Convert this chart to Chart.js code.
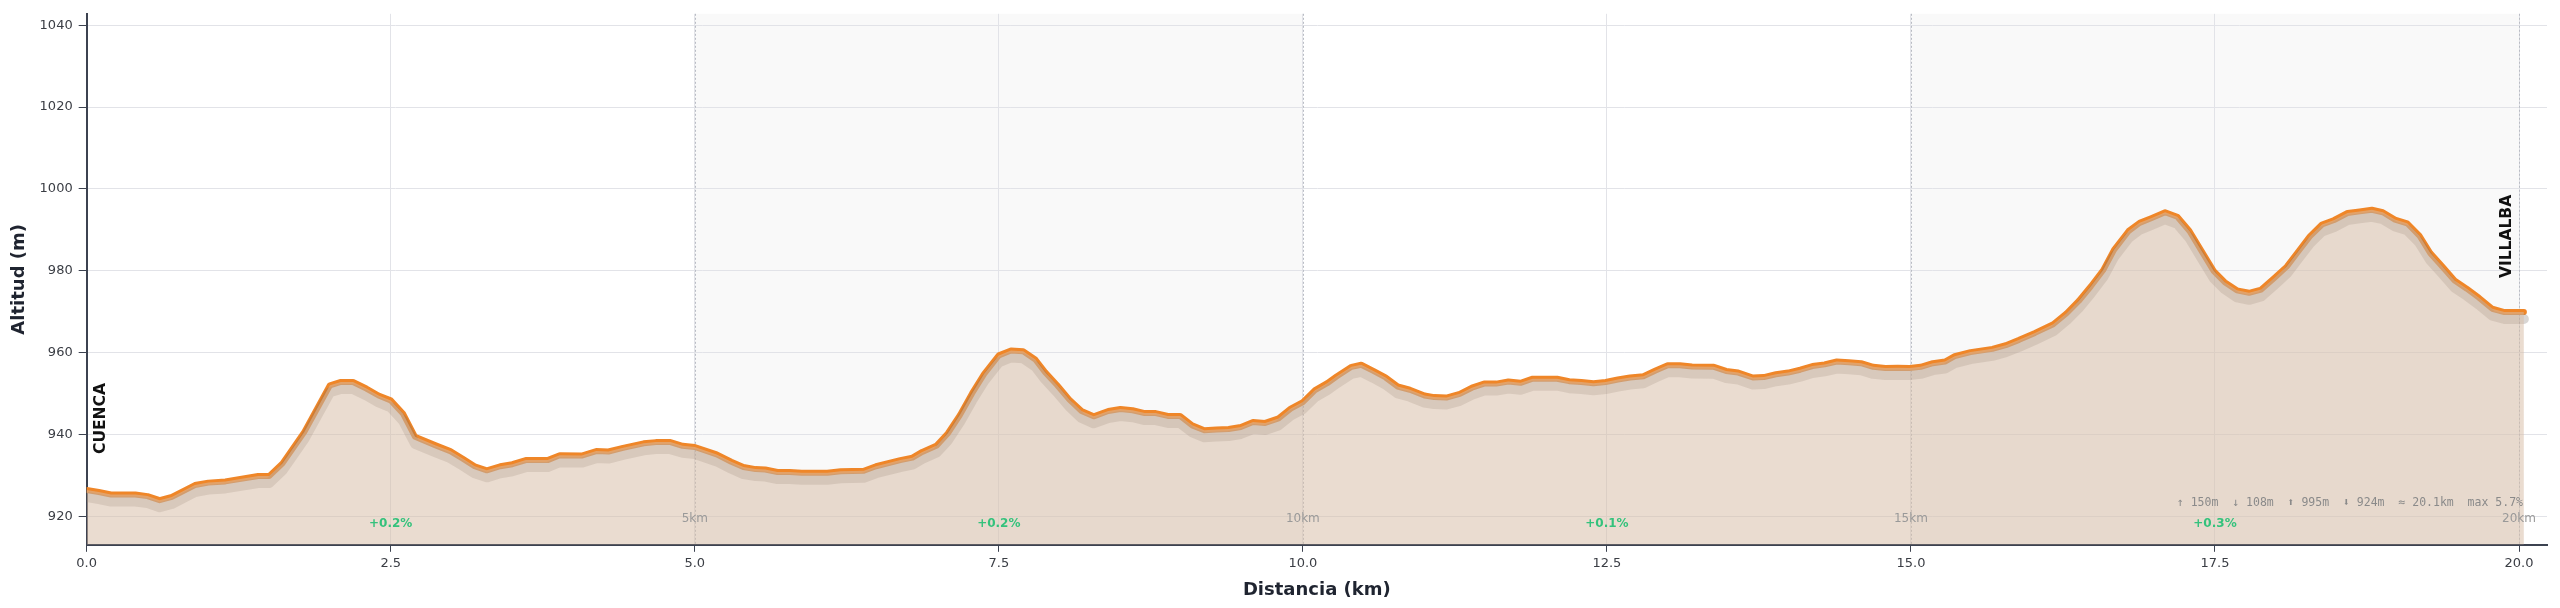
<!DOCTYPE html>
<html>
<head>
<meta charset="utf-8">
<script src="https://cdn.jsdelivr.net/npm/chart.js@4/dist/chart.umd.min.js"></script>
<style>
  html, body { margin: 0; padding: 0; background: #fff; }
  #wrap { width: 2560px; height: 608px; }
</style>
</head>
<body>
<div id="wrap"><canvas id="profile"></canvas></div>
<script>
// distance along the route (km) and altitude (m)
const distKm = [
  0.00, 0.10, 0.20, 0.40, 0.50, 0.60, 0.70, 0.89, 1.00, 1.14, 1.41, 1.50, 1.61, 1.79, 2.00, 2.09, 2.19, 2.30, 2.40, 2.50,
  2.60, 2.70, 2.87, 2.99, 3.09, 3.19, 3.29, 3.40, 3.50, 3.61, 3.79, 3.89, 4.07, 4.19, 4.29, 4.41, 4.58, 4.68, 4.80, 4.90,
  5.00, 5.18, 5.30, 5.40, 5.50, 5.58, 5.68, 5.78, 5.88, 6.09, 6.20, 6.39, 6.49, 6.69, 6.79, 6.87, 6.99, 7.08, 7.18, 7.28,
  7.38, 7.50, 7.60, 7.70, 7.80, 7.88, 7.98, 8.08, 8.18, 8.28, 8.40, 8.50, 8.60, 8.70, 8.79, 8.89, 8.99, 9.09, 9.19, 9.29,
  9.39, 9.49, 9.59, 9.69, 9.80, 9.90, 10.00, 10.10, 10.20, 10.28, 10.40, 10.48, 10.58, 10.68, 10.78, 10.88, 11.00, 11.08, 11.18, 11.29,
  11.39, 11.49, 11.59, 11.69, 11.79, 11.89, 12.09, 12.19, 12.29, 12.39, 12.49, 12.59, 12.69, 12.80, 12.90, 13.00, 13.10, 13.20, 13.38, 13.48,
  13.58, 13.70, 13.79, 13.89, 13.99, 14.09, 14.19, 14.29, 14.39, 14.49, 14.59, 14.69, 14.79, 14.89, 14.99, 15.08, 15.18, 15.28, 15.36, 15.49,
  15.67, 15.78, 15.89, 16.02, 16.17, 16.28, 16.38, 16.48, 16.58, 16.67, 16.79, 16.88, 16.98, 17.09, 17.19, 17.29, 17.39, 17.49, 17.58, 17.68,
  17.78, 17.88, 17.99, 18.09, 18.18, 18.28, 18.38, 18.48, 18.59, 18.69, 18.79, 18.88, 18.98, 19.08, 19.18, 19.27, 19.37, 19.47, 19.57, 19.67,
  19.78, 19.88, 20.04
];
const altitudeM = [
  926.4, 925.9, 925.3, 925.3, 924.9, 923.9, 924.7, 927.6, 928.2, 928.5, 929.8, 929.8, 932.9, 940.6, 952.0, 952.8, 952.8, 951.2, 949.5, 948.3,
  945.1, 939.4, 937.3, 935.9, 934.1, 932.2, 931.2, 932.2, 932.7, 933.7, 933.7, 934.9, 934.8, 935.9, 935.8, 936.7, 937.8, 938.1, 938.1, 937.2,
  936.9, 935.1, 933.3, 932.0, 931.5, 931.4, 930.8, 930.8, 930.6, 930.6, 931.0, 931.1, 932.2, 933.7, 934.3, 935.7, 937.3, 940.2, 944.7, 950.0,
  954.8, 959.3, 960.5, 960.3, 958.3, 955.2, 952.0, 948.5, 945.7, 944.4, 945.7, 946.2, 945.9, 945.2, 945.2, 944.5, 944.5, 942.2, 941.0, 941.2,
  941.3, 941.8, 943.0, 942.8, 943.9, 946.3, 947.9, 950.8, 952.5, 954.2, 956.5, 957.0, 955.5, 953.9, 951.7, 950.9, 949.5, 949.1, 949.0, 949.9,
  951.4, 952.4, 952.4, 952.9, 952.6, 953.6, 953.6, 953.0, 952.8, 952.5, 952.8, 953.4, 953.9, 954.2, 955.6, 956.9, 956.9, 956.6, 956.5, 955.5,
  955.1, 953.9, 954.0, 954.7, 955.1, 955.8, 956.7, 957.1, 957.8, 957.6, 957.4, 956.5, 956.2, 956.3, 956.2, 956.5, 957.4, 957.8, 959.1, 960.1,
  960.9, 961.8, 963.1, 964.8, 966.9, 969.6, 972.6, 976.2, 980.1, 985.1, 989.7, 991.7, 992.9, 994.3, 993.2, 989.7, 984.8, 979.9, 977.2, 975.2,
  974.6, 975.4, 978.3, 981.0, 984.5, 988.4, 991.3, 992.4, 994.1, 994.5, 994.9, 994.3, 992.5, 991.6, 988.6, 984.3, 981.0, 977.6, 975.6, 973.4,
  970.7, 969.9, 969.9
];

const kmMarkers = [5, 10, 15, 20];
const gradeKm = [2.5, 7.5, 12.5, 17.5];
const gradeText = ['+0.2%', '+0.2%', '+0.1%', '+0.3%'];
const startName = 'CUENCA';
const endName = 'VILLALBA';
const statsText = '\u2191 150m  \u2193 108m  \u2B06 995m  \u2B07 924m  \u2248 20.1km  max 5.7%';

const points = distKm.map((d, i) => ({ x: d, y: altitudeM[i] }));

const FONT = "'DejaVu Sans', sans-serif";

const profileExtras = {
  id: 'profileExtras',
  beforeDraw(chart) {
    const { ctx, chartArea: a, scales: { x } } = chart;
    ctx.save();
    ctx.fillStyle = '#f9f9f9';
    for (let k = 5; k < x.max; k += 10) {
      const x0 = x.getPixelForValue(k);
      const x1 = Math.min(x.getPixelForValue(k + 5), a.right);
      ctx.fillRect(x0, a.top, x1 - x0, a.bottom - a.top);
    }
    ctx.restore();
  },
  beforeDatasetsDraw(chart) {
    const { ctx, chartArea: a, scales: { x } } = chart;
    ctx.save();
    ctx.strokeStyle = '#b9bcc4';
    ctx.lineWidth = 1;
    ctx.setLineDash([2, 2]);
    kmMarkers.forEach(k => {
      const px = Math.round(x.getPixelForValue(k)) + 0.5;
      ctx.beginPath();
      ctx.moveTo(px, a.top);
      ctx.lineTo(px, a.bottom);
      ctx.stroke();
    });
    ctx.restore();
  },
  // the grey shadow line sits a few pixels below the orange one
  beforeDatasetDraw(chart, args) {
    if (args.index === 1) {
      chart.ctx.save();
      chart.ctx.translate(0, 7);
    }
  },
  afterDatasetDraw(chart, args) {
    if (args.index === 1) chart.ctx.restore();
  },
  afterDatasetsDraw(chart) {
    const { ctx, chartArea: a, scales: { x, y } } = chart;
    ctx.save();
    // km markers
    ctx.font = '12px ' + FONT;
    ctx.fillStyle = '#999';
    ctx.textAlign = 'center';
    ctx.textBaseline = 'middle';
    kmMarkers.forEach(k => ctx.fillText(k + 'km', x.getPixelForValue(k), a.bottom - 26));
    // grade labels
    ctx.font = 'bold 12px ' + FONT;
    ctx.fillStyle = '#34c27c';
    gradeKm.forEach((k, i) => ctx.fillText(gradeText[i], x.getPixelForValue(k), a.bottom - 21));
    // summary
    ctx.font = "11.5px 'DejaVu Sans Mono', monospace";
    ctx.fillStyle = '#8a8a8a';
    ctx.textAlign = 'right';
    ctx.fillText(statsText, a.right - 24, a.bottom - 42);
    // town names
    ctx.font = 'bold 15.5px ' + FONT;
    ctx.fillStyle = '#111';
    ctx.textAlign = 'left';
    const first = points[0], last = points[points.length - 1];
    ctx.save();
    ctx.translate(x.getPixelForValue(first.x) + 14, y.getPixelForValue(first.y) - 36);
    ctx.rotate(-Math.PI / 2);
    ctx.fillText(startName, 0, 0);
    ctx.restore();
    ctx.save();
    ctx.translate(x.getPixelForValue(last.x) - 17, y.getPixelForValue(last.y) - 34);
    ctx.rotate(-Math.PI / 2);
    ctx.fillText(endName, 0, 0);
    ctx.restore();
    ctx.restore();
  }
};

new Chart(document.getElementById('profile'), {
  type: 'line',
  data: {
    datasets: [
      {
        label: 'area',
        data: points,
        borderWidth: 0,
        pointRadius: 0,
        fill: 'start',
        backgroundColor: 'rgba(214, 188, 165, 0.52)'
      },
      {
        label: 'shadow',
        data: points,
        borderColor: 'rgba(110, 95, 90, 0.26)',
        borderWidth: 10,
        borderJoinStyle: 'round',
        borderCapStyle: 'round',
        pointRadius: 0,
        fill: false
      },
      {
        label: 'Altitud',
        data: points,
        borderColor: '#ef8628',
        borderWidth: 6,
        borderJoinStyle: 'round',
        borderCapStyle: 'round',
        pointRadius: 0,
        fill: false
      }
    ]
  },
  options: {
    responsive: true,
    maintainAspectRatio: false,
    animation: false,
    layout: { padding: { top: 13, right: 13, left: 9, bottom: 7 } },
    plugins: {
      legend: { display: false },
      tooltip: { enabled: false }
    },
    scales: {
      x: {
        type: 'linear',
        min: 0,
        max: 20.23,
        ticks: {
          stepSize: 2.5,
          includeBounds: false,
          color: '#3a3d44',
          font: { family: FONT, size: 13 },
          padding: 4,
          callback: v => v.toFixed(1)
        },
        grid: { color: '#e2e3e8', tickLength: 7, tickColor: '#3c4250' },
        border: { color: '#3c4250', width: 2 },
        title: {
          display: true,
          text: 'Distancia (km)',
          color: '#1f2430',
          font: { family: FONT, size: 18, weight: 'bold' },
          padding: { top: 4, bottom: 0 }
        }
      },
      y: {
        min: 913,
        max: 1042.8,
        ticks: {
          stepSize: 20,
          includeBounds: false,
          color: '#3a3d44',
          font: { family: FONT, size: 13 },
          padding: 6,
          callback: v => String(v)
        },
        grid: { color: '#e2e3e8', tickLength: 8, tickColor: '#3c4250' },
        border: { color: '#3c4250', width: 2 },
        title: {
          display: true,
          text: 'Altitud (m)',
          color: '#1f2430',
          font: { family: FONT, size: 18, weight: 'bold' },
          padding: { top: 0, bottom: 3 }
        }
      }
    }
  },
  plugins: [profileExtras]
});
</script>
</body>
</html>
